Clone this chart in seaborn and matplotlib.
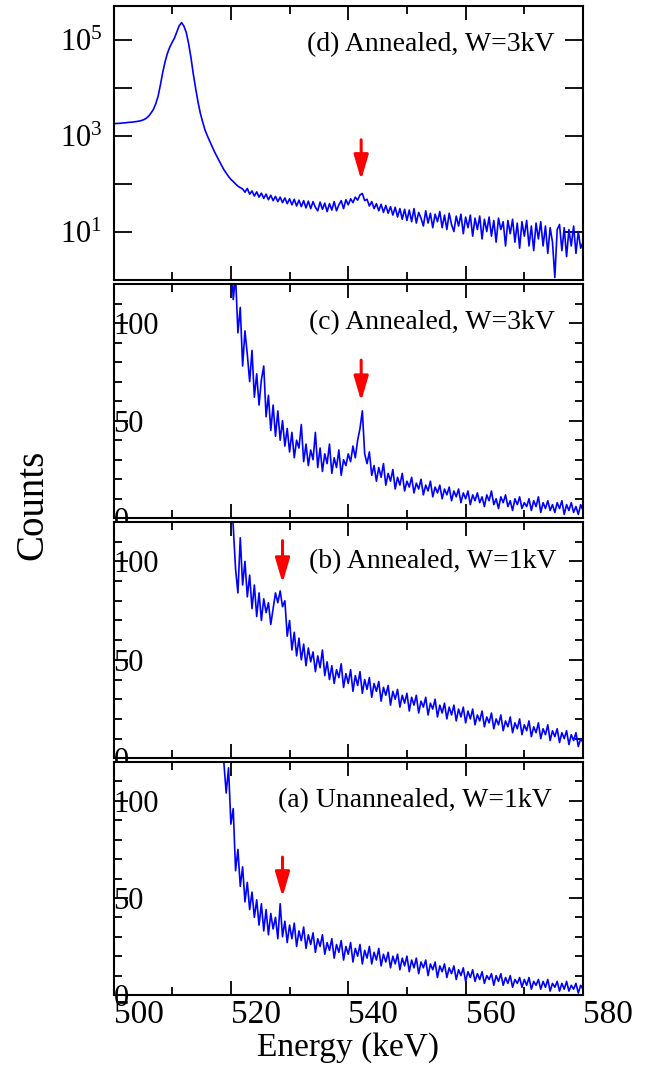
import numpy as np
import matplotlib
matplotlib.use("Agg")
import matplotlib.pyplot as plt
import seaborn as sns
from matplotlib.ticker import MultipleLocator, FixedLocator, FuncFormatter, NullLocator

# ---------------- data ----------------
step_kev = 0.4
start_d = 500.0
start_c = 519.6
start_b = 519.6
start_a = 518.4

counts_d = [
    1750, 1780, 1790, 1800, 1830, 1840, 1870, 1890, 1900, 1930,
    1960, 2000, 2060, 2150, 2300, 2550, 2950, 3500, 4600, 6600,
    11500, 21000, 35000, 52000, 70000, 88000, 108000, 145000, 195000, 225000,
    190000, 140000, 82000, 42000, 19000, 9500, 5000, 2900, 1900, 1300,
    980, 760, 590, 460, 370, 300, 240, 195, 165, 140,
    122, 110, 98, 88, 82,
    77, 66, 79, 60, 70, 55, 67, 52, 63, 49,
    60, 46, 57, 44, 54, 42, 52, 40, 50, 38,
    48, 36, 47, 34, 45, 33, 44, 31, 43, 30,
    42, 32, 27, 41, 29, 39, 26, 38, 28, 42,
    27, 36, 44, 30, 46,
    36, 48, 40, 52, 45, 58, 62, 44, 47, 34,
    42, 30, 38, 27, 37, 25, 35, 24, 33, 22,
    32, 20, 30, 18, 29, 17, 28, 16, 30, 15,
    25, 19, 13, 27, 15, 24, 12, 23, 16, 26,
    12, 22, 11, 24, 14, 10, 21, 13, 23, 9,
    20, 12, 22, 8, 19, 11, 21, 7, 18, 10,
    20, 8, 17, 6, 19, 11, 16, 5, 17, 9,
    18, 6, 15, 4.5, 16, 8, 17, 5, 13, 4,
    15, 7, 16, 5, 13, 3.5, 12, 6, 1.1, 11,
    14, 4, 12, 3, 11, 5, 13, 3.5, 10, 4.5,
    6,
]

counts_c = [
    170, 140, 112, 124, 95, 108, 78, 96, 84, 70,
    86, 62, 74, 58, 71, 78, 52, 63, 45, 58,
    42, 55, 40, 50, 37, 46, 34, 44, 31, 40,
    36, 48, 29, 38, 27, 35, 30, 44, 26, 36,
    24, 33, 28, 38, 23, 31, 26, 35, 22, 30,
    27, 33, 29, 37, 31, 40, 46, 55, 33, 28,
    34, 22, 27, 19, 26, 21, 28, 17, 23, 19,
    25, 15, 21, 17, 23, 14, 19, 16, 21, 13,
    18, 15, 20, 12, 17, 14, 19, 11, 16, 13,
    17, 10, 15, 12, 16, 9, 14, 11, 15, 8,
    13, 10, 14, 7, 12, 9, 13, 8, 11, 6,
    12, 9, 14, 7, 10, 5, 11, 8, 12, 6,
    9, 4, 10, 7, 11, 5, 8, 6, 10, 4,
    9, 6, 11, 3, 8, 5, 9, 4, 7, 3,
    8, 5, 9, 2, 7, 4, 8, 3, 6, 2,
    7, 4,
]

counts_b = [
    180, 135, 118, 96, 84, 112, 88, 100, 82, 93,
    76, 88, 72, 84, 70, 81, 74, 79, 68, 76,
    84, 79, 85, 77, 80, 62, 70, 55, 64, 52,
    61, 50, 58, 47, 56, 49, 54, 44, 52, 46,
    55, 42, 49, 40, 47, 38, 45, 41, 48, 36,
    43, 38, 45, 34, 42, 37, 44, 33, 40, 35,
    41, 31, 38, 34, 39, 29, 36, 32, 37, 27,
    34, 30, 35, 26, 32, 28, 33, 24, 31, 27,
    32, 23, 29, 26, 31, 22, 28, 25, 30, 21,
    27, 23, 28, 20, 26, 22, 27, 19, 25, 21,
    26, 18, 24, 20, 25, 17, 22, 19, 24, 16,
    21, 18, 23, 15, 20, 17, 22, 14, 19, 16,
    21, 13, 18, 15, 20, 12, 17, 14, 19, 11,
    16, 13, 18, 10, 15, 12, 17, 9, 14, 11,
    15, 8, 13, 10, 14, 7, 12, 9, 13, 6,
    10, 8,
]

counts_a = [
    160, 120, 104, 117, 88, 96, 64, 75, 56, 66,
    48, 58, 44, 53, 40, 49, 36, 47, 33, 44,
    31, 42, 34, 40, 29, 47, 30, 38, 27, 36,
    29, 37, 25, 33, 28, 35, 24, 31, 26, 32,
    22, 29, 25, 31, 21, 27, 23, 29, 19, 26,
    22, 28, 18, 25, 21, 27, 17, 24, 20, 26,
    16, 23, 19, 25, 16, 22, 18, 24, 15, 21,
    17, 22, 14, 20, 16, 21, 13, 19, 15, 20,
    12, 18, 14, 19, 11, 17, 14, 18, 10, 16,
    13, 17, 9, 15, 12, 16, 9, 14, 11, 15,
    8, 13, 10, 14, 7, 12, 9, 13, 7, 11,
    8, 12, 6, 10, 8, 11, 5, 10, 7, 11,
    5, 9, 6, 10, 4, 8, 6, 9, 4, 8,
    5, 9, 3, 7, 5, 8, 3, 7, 4, 8,
    2, 6, 4, 7, 2, 6, 3, 7, 2, 5,
    3, 6, 1, 5, 3,
]

panel_labels = ["(d) Annealed, W=3kV", "(c) Annealed, W=3kV",
                "(b) Annealed, W=1kV", "(a) Unannealed, W=1kV"]
label_x = [533.0, 533.3, 533.3, 528.0]
label_y = [80000, 100, 100, 100]
arrow_x = [542.2, 542.2, 528.8, 528.8]
arrow_tail = [813, 81, 110.5, 71]
arrow_tip = [119, 60, 89, 50.5]
x_ticks = [500, 520, 540, 560, 580]

# ---------------- style ----------------
sns.set_theme(style="ticks")
plt.rcParams["font.family"] = ["Liberation Serif", "DejaVu Serif"]
plt.rcParams["mathtext.fontset"] = "custom"
plt.rcParams["mathtext.rm"] = "Liberation Serif"
plt.rcParams["mathtext.it"] = "Liberation Serif:italic"
for key in ["text.color", "axes.labelcolor", "xtick.color", "ytick.color",
            "xtick.labelcolor", "ytick.labelcolor", "axes.edgecolor"]:
    plt.rcParams[key] = "black"

fig = plt.figure(figsize=(6.46, 10.72), dpi=100)
W, H = 646.0, 1072.0
left_px, right_px = 113.5, 583.0
panels_px = [(6.0, 279.5), (284.0, 518.3), (522.0, 758.3), (762.0, 995.0)]

series = [
    (start_d, counts_d), (start_c, counts_c), (start_b, counts_b), (start_a, counts_a)
]

axes = []
for k, (top, bot) in enumerate(panels_px):
    ax = fig.add_axes([left_px / W, 1 - bot / H, (right_px - left_px) / W, (bot - top) / H])
    axes.append(ax)
    start, cts = series[k]
    energy = start + step_kev * np.arange(len(cts))
    sns.lineplot(x=energy, y=np.asarray(cts, dtype=float), ax=ax, color="#0000ff",
                 lw=1.2, estimator=None, sort=False)
    ax.set_xlim(500, 580)
    ax.xaxis.set_major_locator(FixedLocator(x_ticks))
    ax.xaxis.set_minor_locator(MultipleLocator(10))
    for sp in ax.spines.values():
        sp.set_linewidth(1.5)
        sp.set_color("black")
    ax.tick_params(which="both", direction="in", top=True, right=True,
                   width=1.3, color="black", labelcolor="black", labelsize=22)
    ax.tick_params(which="major", length=10)
    ax.tick_params(which="minor", length=6)
    ax.set_xlabel("")
    ax.set_ylabel("")

    if k == 0:
        ax.set_yscale("log")
        ax.set_ylim(1, 5e5)
        ax.yaxis.set_major_locator(FixedLocator([1, 10, 100, 1e3, 1e4, 1e5]))
        ax.yaxis.set_minor_locator(NullLocator())
        ax.yaxis.set_major_formatter(FuncFormatter(
            lambda v, p: (r"$10^{%d}$" % round(np.log10(v))) if round(np.log10(v)) % 2 == 1 else ""))
        ax.tick_params(axis="y", which="major", length=13, pad=8, labelsize=22)
        ax.tick_params(axis="x", which="major", length=10)
    else:
        ax.set_ylim(0, 120)
        ax.yaxis.set_major_locator(FixedLocator([0, 50, 100]))
        ax.yaxis.set_minor_locator(MultipleLocator(10))
        ax.tick_params(axis="y", which="major", pad=0, labelsize=22)
        plt.setp(ax.get_yticklabels(), ha="left")

    if k < 3:
        ax.tick_params(axis="x", labelbottom=False)
    else:
        ax.tick_params(axis="x", which="major", pad=3, labelsize=24)
        plt.setp(ax.get_xticklabels(), ha="left")
        ax.set_xlabel("Energy (keV)", fontsize=24, labelpad=2, color="black")

    ax.text(label_x[k], label_y[k], panel_labels[k], fontsize=20, ha="left",
            va="center", color="black")
    ax.annotate("", xy=(arrow_x[k], arrow_tip[k]), xytext=(arrow_x[k], arrow_tail[k]),
                arrowprops=dict(arrowstyle="-|>,head_length=0.75,head_width=0.22",
                                mutation_scale=20, color="#ff0000", lw=2.2,
                                shrinkA=0, shrinkB=0))

fig.text(33 / W, 1 - 505 / H, "Counts", rotation=90, ha="center", va="center",
         fontsize=28, color="black")

fig.savefig("out.png", dpi=100)
